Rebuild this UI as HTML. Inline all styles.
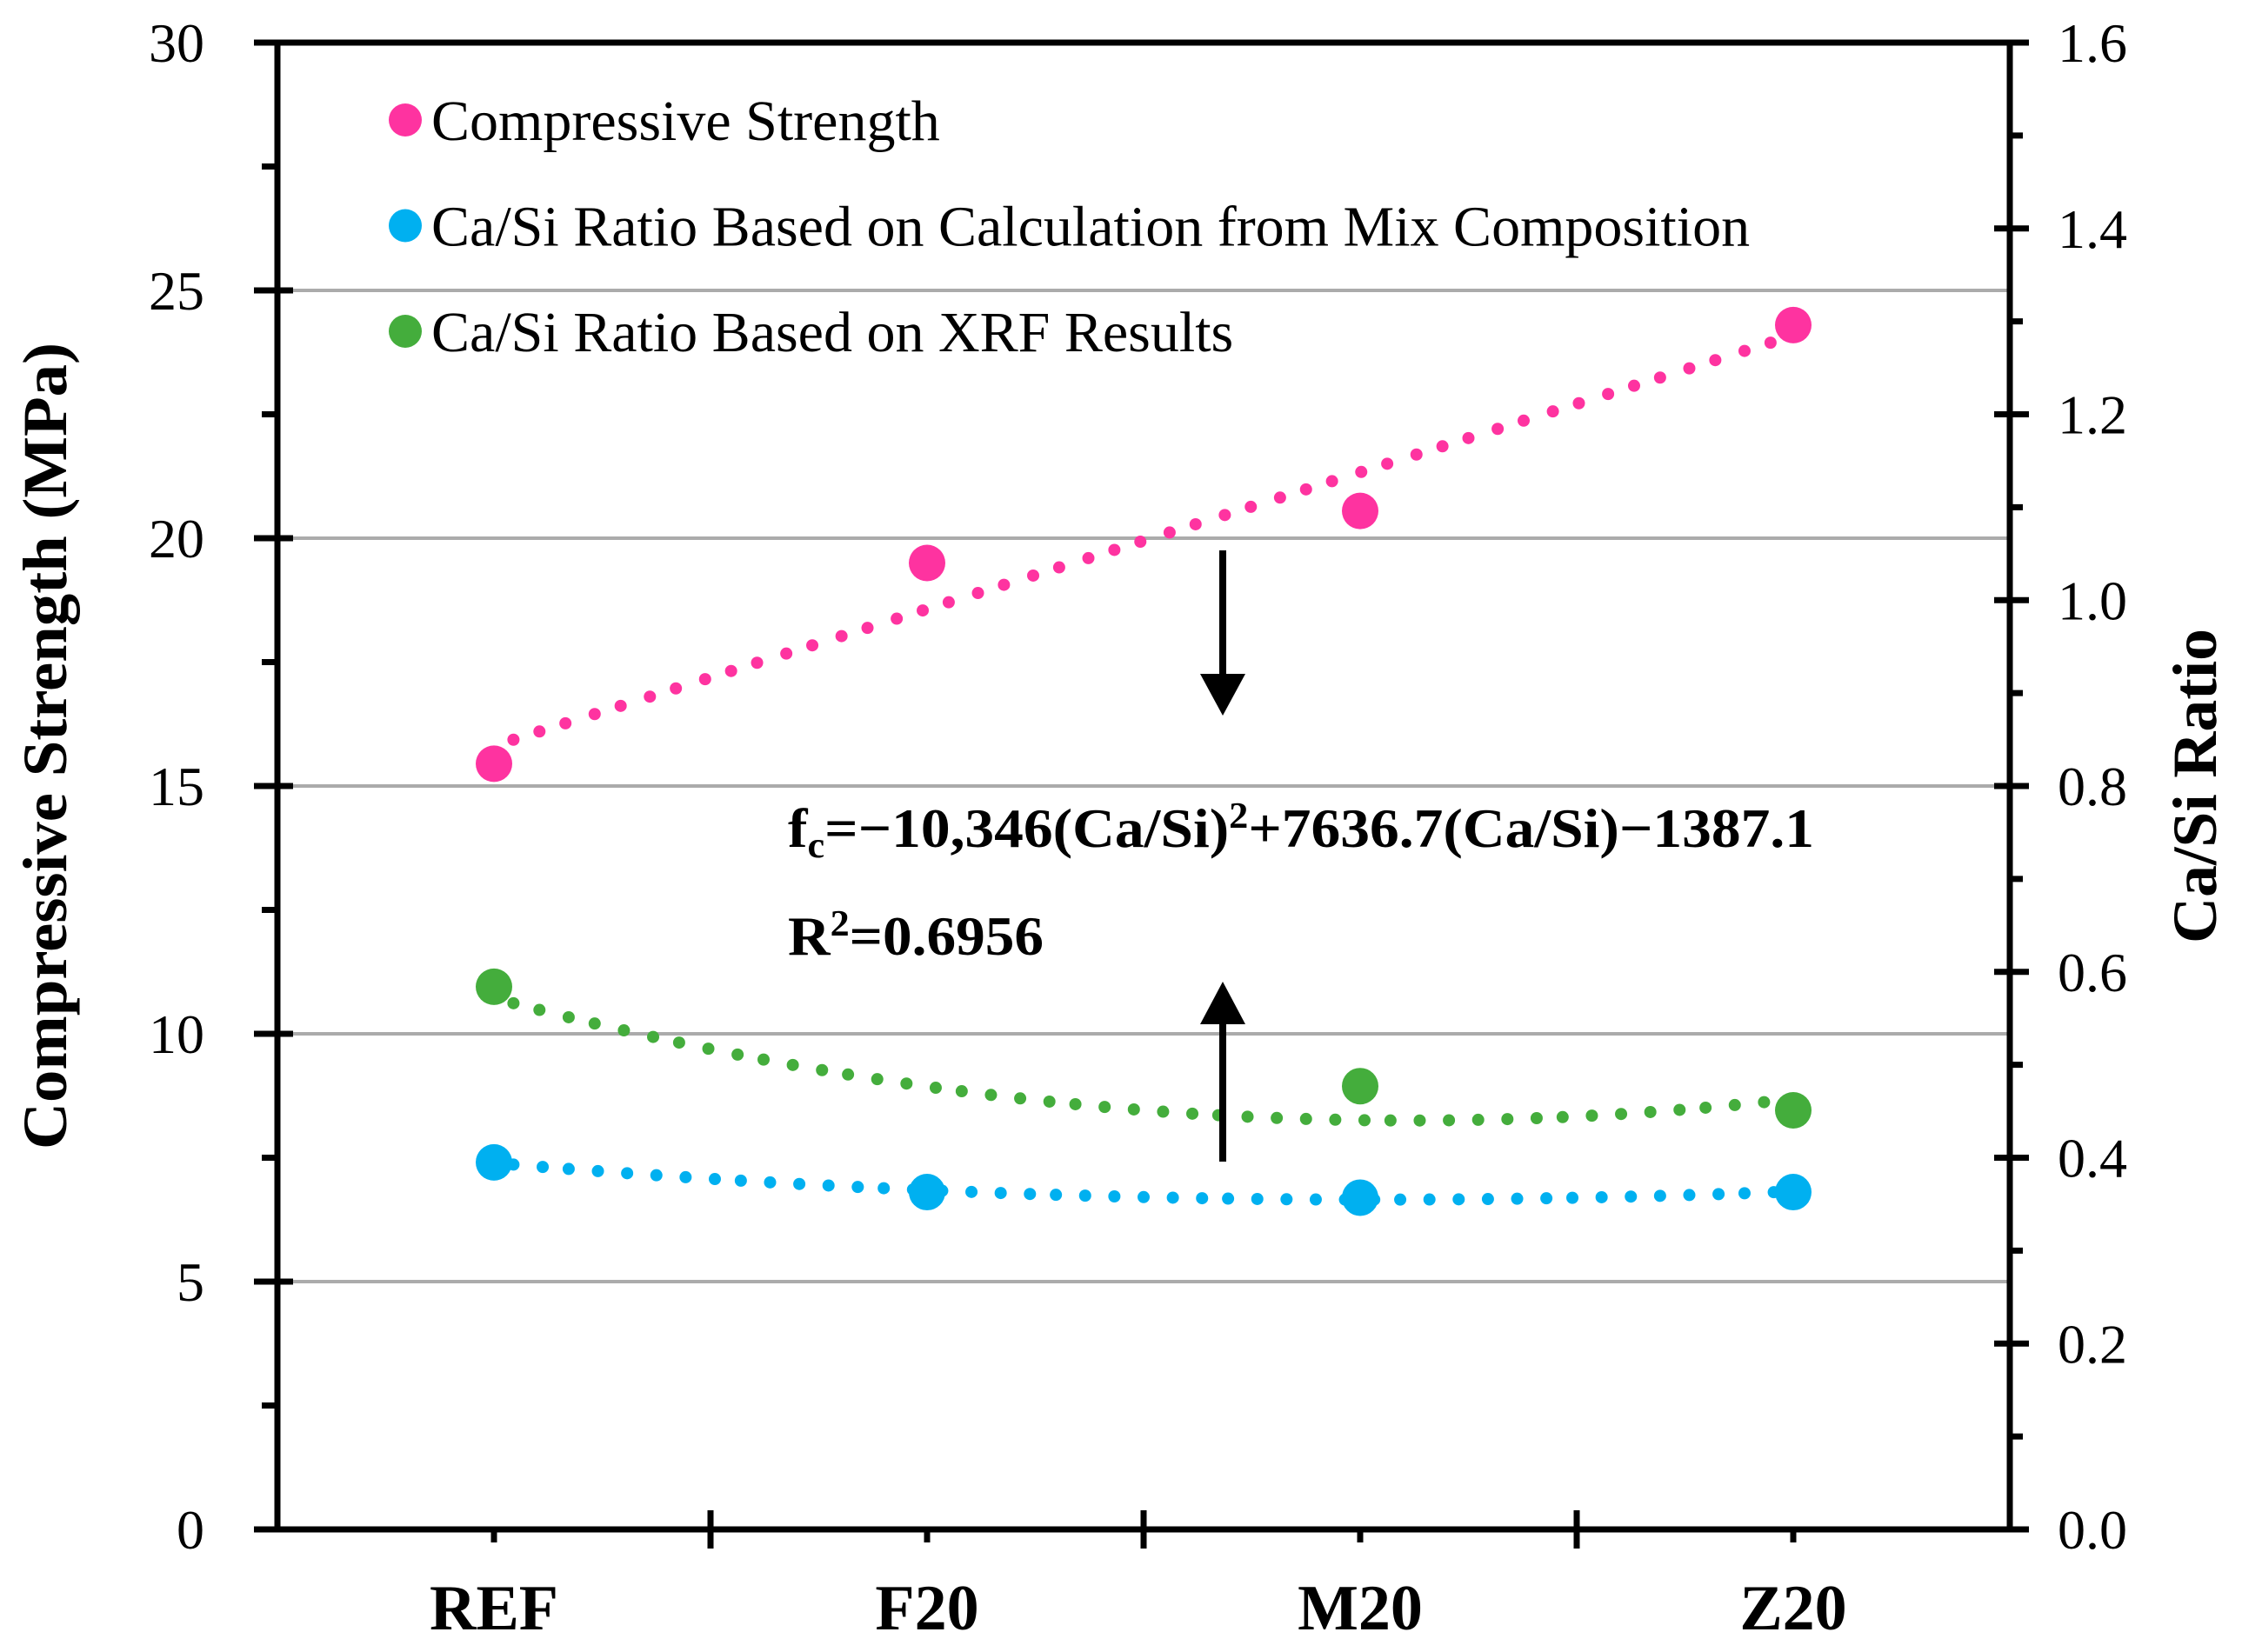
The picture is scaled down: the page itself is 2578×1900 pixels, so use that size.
<!DOCTYPE html>
<html><head><meta charset="utf-8"><style>
html,body{margin:0;padding:0;background:#fff;}
svg{display:block;font-family:"Liberation Serif",serif;}
</style></head><body>
<svg id="chart" width="2578" height="1900" viewBox="0 0 2578 1900" xmlns="http://www.w3.org/2000/svg">
<g id="grid"></g>
<g id="series"></g>
<g id="axes"></g>
<g id="legend"></g>
<text x="0" y="0" transform="translate(76,858) rotate(-90)" text-anchor="middle" font-weight="bold" font-size="72" textLength="928" lengthAdjust="spacingAndGlyphs">Compressive Strength (MPa)</text>
<text x="0" y="0" transform="translate(2548,904) rotate(-90)" text-anchor="middle" font-weight="bold" font-size="72" textLength="362" lengthAdjust="spacingAndGlyphs">Ca/Si Ratio</text>
<text x="906" y="974" font-weight="bold" font-size="64" textLength="1180" lengthAdjust="spacingAndGlyphs">f<tspan font-size="42" dy="12">c</tspan><tspan dy="-12">=−10,346(Ca/Si)</tspan><tspan font-size="42" dy="-22">2</tspan><tspan dy="22">+7636.7(Ca/Si)−1387.1</tspan></text>
<text x="906" y="1098" font-weight="bold" font-size="64" textLength="294" lengthAdjust="spacingAndGlyphs">R<tspan font-size="42" dy="-22">2</tspan><tspan dy="22">=0.6956</tspan></text>
<g>
<line x1="1406" y1="633" x2="1406" y2="780" stroke="#000" stroke-width="8"/>
<polygon points="1380,775 1432,775 1406,823" fill="#000"/>
</g>
<g>
<line x1="1406" y1="1336" x2="1406" y2="1170" stroke="#000" stroke-width="8"/>
<polygon points="1380,1178 1432,1178 1406,1129" fill="#000"/>
</g>
</svg>
<script>
const categories = ["REF","F20","M20","Z20"];
const strength = [15.45, 19.5, 20.55, 24.3];
const caSiCalc = [0.395, 0.363, 0.357, 0.363];
const caSiXRF = [0.584, null, 0.477, 0.451];
const caSiXRFTrendInput = [0.584, 0.44, 0.477, 0.451];
const leftTicks = ["0","5","10","15","20","25","30"];
const rightTicks = ["0.0","0.2","0.4","0.6","0.8","1.0","1.2","1.4","1.6"];
const legendLabels = ["Compressive Strength","Ca/Si Ratio Based on Calculation from Mix Composition","Ca/Si Ratio Based on XRF Results"];

const NS="http://www.w3.org/2000/svg";
const L=319,R=2311,T=49,B=1759;
const yL=v=>B-(v/30)*(B-T);
const yR=v=>B-(v/1.6)*(B-T);
const slot=(R-L)/categories.length;
const xC=i=>L+slot*(i+0.5);
function mk(tag,parent,attrs){const e=document.createElementNS(NS,tag);for(const k in attrs)e.setAttribute(k,attrs[k]);parent.appendChild(e);return e;}
const grid=document.getElementById('grid'),axes=document.getElementById('axes'),ser=document.getElementById('series'),leg=document.getElementById('legend');

for(let i=1;i<leftTicks.length-1;i++){const v=+leftTicks[i];
 const g=mk('line',grid,{x1:L,x2:R,y1:yL(v),y2:yL(v),stroke:'#ababab','stroke-width':4});
 
 }

function polyfit(xs,ys,deg){const n=deg+1;const A=[];for(let r=0;r<n;r++){A.push(new Array(n+1).fill(0));}
 xs.forEach((x,k)=>{for(let r=0;r<n;r++){for(let c=0;c<n;c++)A[r][c]+=Math.pow(x,r+c);A[r][n]+=ys[k]*Math.pow(x,r);}});
 for(let i=0;i<n;i++){let p=i;for(let j=i+1;j<n;j++)if(Math.abs(A[j][i])>Math.abs(A[p][i]))p=j;[A[i],A[p]]=[A[p],A[i]];
  for(let j=0;j<n;j++)if(j!==i){const f=A[j][i]/A[i][i];for(let c=i;c<=n;c++)A[j][c]-=f*A[i][c];}}
 return A.map((r,i)=>r[n]/r[i]);}
function trend(vals,deg,yf,color,name){const xs=[],ys=[];vals.forEach((v,i)=>{if(v!=null){xs.push(i);ys.push(v);}});
 const c=polyfit(xs,ys,deg);const f=x=>c.reduce((s,a,k)=>s+a*Math.pow(x,k),0);
 const g=mk('g',ser,{});
 
 
 let pts=[];const N=400;for(let k=0;k<=N;k++){const x=xs[0]+(xs[xs.length-1]-xs[0])*k/N;pts.push([xC(x),yf(f(x))]);}
 let acc=0,next=20;for(let k=1;k<pts.length;k++){const d=Math.hypot(pts[k][0]-pts[k-1][0],pts[k][1]-pts[k-1][1]);acc+=d;
  if(acc>=next){mk('circle',g,{cx:pts[k][0],cy:pts[k][1],r:7,fill:color});next+=33;}}}
function markers(vals,yf,color,name){vals.forEach((v,i)=>{if(v==null)return;
 const c=mk('circle',ser,{cx:xC(i),cy:yf(v),r:21,fill:color});
 
 });}
const PINK='#fe33a0',BLUE='#00b0f0',GREEN='#44ad3c';
trend(strength,1,yL,PINK,'strength-trendline');
trend(caSiCalc,2,yR,BLUE,'calc-trendline');
trend(caSiXRFTrendInput,2,yR,GREEN,'xrf-trendline');
markers(strength,yL,PINK,'strength-point');
markers(caSiCalc,yR,BLUE,'calc-point');
markers(caSiXRF,yR,GREEN,'xrf-point');

const frame=mk('path',axes,{d:`M${L},${T}H${R}M${L},${T-3}V${B}H${R}M${R},${T}V${B+3}`,stroke:'#000','stroke-width':7,fill:'none'});


leftTicks.forEach((t,i)=>{const v=+t,y=yL(v);
 mk('line',axes,{x1:L-27,x2:L+18,y1:y,y2:y,stroke:'#000','stroke-width':7});
 if(i<leftTicks.length-1){const ym=yL(v+2.5);mk('line',axes,{x1:L-18,x2:L,y1:ym,y2:ym,stroke:'#000','stroke-width':7});}
 const tx=mk('text',axes,{x:235,y:y+22,'text-anchor':'end','font-size':64});tx.textContent=t;
 
 });
rightTicks.forEach((t,i)=>{const v=+t,y=yR(v);
 mk('line',axes,{x1:R-18,x2:R+22,y1:y,y2:y,stroke:'#000','stroke-width':7});
 if(i<rightTicks.length-1){const ym=yR(v+0.1);mk('line',axes,{x1:R,x2:R+15,y1:ym,y2:ym,stroke:'#000','stroke-width':7});}
 const tx=mk('text',axes,{x:2366,y:y+22,'font-size':64});tx.textContent=t;
 
 });
for(let i=1;i<categories.length;i++){const x=L+slot*i;mk('line',axes,{x1:x,x2:x,y1:B-22,y2:B+22,stroke:'#000','stroke-width':7});}
categories.forEach((c,i)=>{const x=xC(i);mk('line',axes,{x1:x,x2:x,y1:B,y2:B+15,stroke:'#000','stroke-width':7});
 const tx=mk('text',axes,{x:x,y:1874,'text-anchor':'middle','font-size':74,'font-weight':'bold'});tx.textContent=c;
 
 });

[PINK,BLUE,GREEN].forEach((col,i)=>{const y=138+i*121.5;
 const g=mk('g',leg,{});
 
 
 mk('circle',g,{cx:466,cy:y,r:19,fill:col});
 const tx=mk('text',g,{x:496,y:y+23,'font-size':66});tx.textContent=legendLabels[i];});
</script>
</body></html>
